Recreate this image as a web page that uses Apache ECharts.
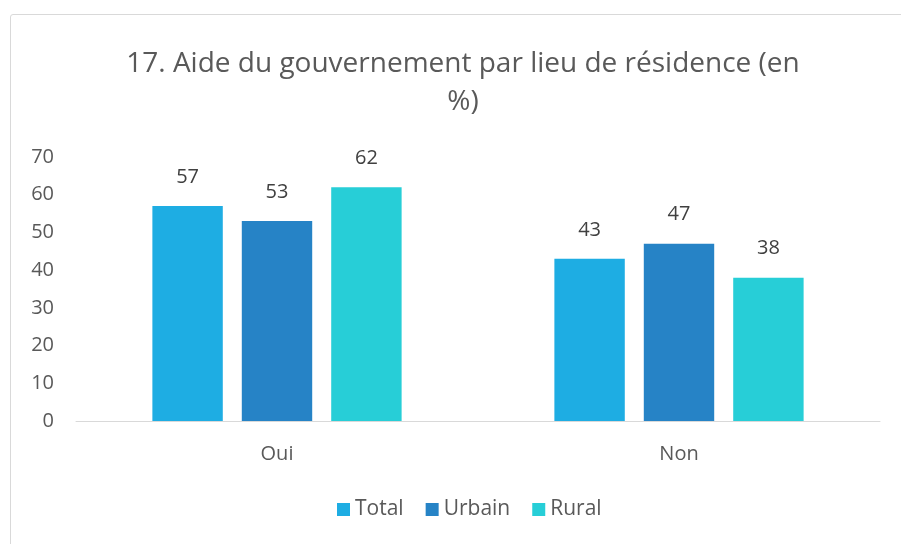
<!DOCTYPE html>
<html>
<head>
<meta charset="utf-8">
<script src="https://cdn.jsdelivr.net/npm/echarts@6/dist/echarts.min.js"></script>
<style>
html,body{margin:0;padding:0;background:#fff;}
#frame{position:absolute;left:10px;top:14px;width:900px;height:540px;border:1px solid #d9d9d9;border-radius:3px;box-sizing:border-box;}
#main{position:absolute;left:0;top:0;width:901px;height:544px;}
</style>
</head>
<body>
<div id="frame"></div>
<div id="main"></div>
<script>
var categories = ['Oui', 'Non'];
var seriesNames = ['Total', 'Urbain', 'Rural'];
var totalData = [57, 43];
var urbainData = [53, 47];
var ruralData = [62, 38];
var yTicks = [0, 10, 20, 30, 40, 50, 60, 70];

var colors = ['#1eade3', '#2683c6', '#27ced7'];
var font = 'Open Sans';

function makeSeries(name, data, color){
	return {
		name: name,
		type: 'bar',
		data: data,
		barGap: '27%',
		barCategoryGap: '38%',
		itemStyle: { color: color },
		label: {
			show: true,
			position: 'top',
			distance: 19,
			color: '#404040',
			fontSize: 20,
			fontFamily: font
		}
	};
}

var myChart = echarts.init(document.getElementById('main'));
var option = {
	animation: false,
	title: {
		text: '17. Aide du gouvernement par lieu de résidence (en\n%)',
		left: 458,
		textAlign: 'center',
		top: 40,
		textStyle: {
			color: '#595959',
			fontSize: 28,
			fontWeight: 'normal',
			fontFamily: font,
			lineHeight: 38
		}
	},
	legend: {
		data: seriesNames,
		bottom: 19,
		left: 332,
		itemWidth: 13,
		itemHeight: 13,
		itemGap: 22,
		icon: 'rect',
		textStyle: { color: '#595959', fontSize: 21, fontFamily: font }
	},
	grid: {
		left: 76,
		right: 21,
		top: 157,
		bottom: 123,
		containLabel: false
	},
	xAxis: {
		type: 'category',
		data: categories,
		axisLine: { lineStyle: { color: '#d9d9d9', width: 1 } },
		axisTick: { show: false },
		axisLabel: { color: '#595959', fontSize: 20, fontFamily: font, margin: 23 }
	},
	yAxis: {
		type: 'value',
		min: yTicks[0],
		max: yTicks[yTicks.length - 1],
		interval: 10,
		splitLine: { show: false },
		axisLine: { show: false },
		axisTick: { show: false },
		axisLabel: { color: '#595959', fontSize: 20, fontFamily: font, margin: 22 }
	},
	series: [
		makeSeries(seriesNames[0], totalData, colors[0]),
		makeSeries(seriesNames[1], urbainData, colors[1]),
		makeSeries(seriesNames[2], ruralData, colors[2])
	]
};
myChart.setOption(option);
</script>
</body>
</html>
